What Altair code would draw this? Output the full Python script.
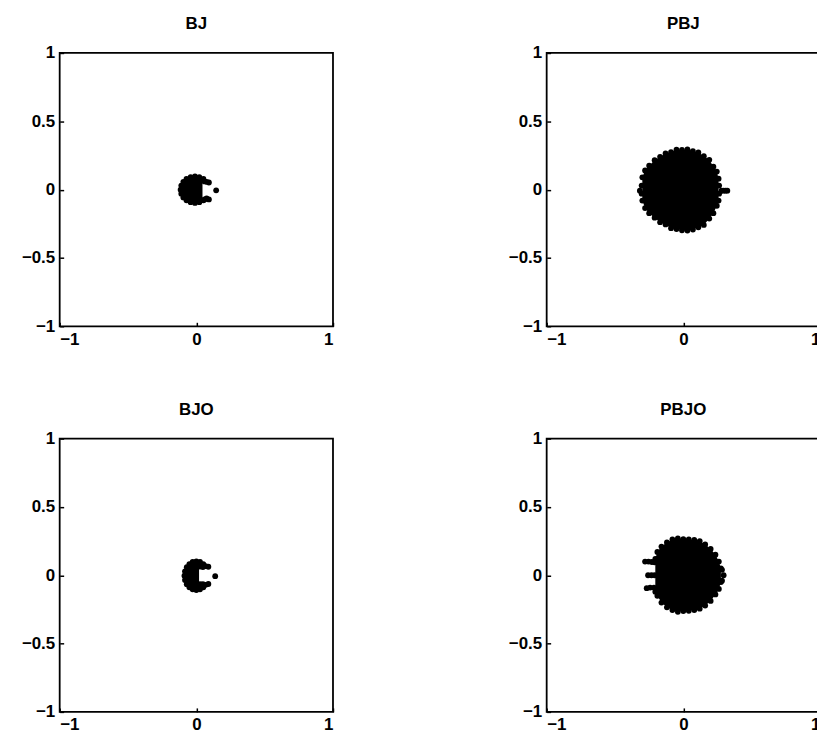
import altair as alt
import pandas as pd

titles = ["BJ", "PBJ", "BJO", "PBJO"]
x_ticks = [-1, 0, 1]
y_ticks = [-1, -0.5, 0, 0.5, 1]

# ---- BJ (top left): solid cluster with a small bite on the right + one outlier
bj_core_x = [-0.105, -0.090, -0.070, -0.050, -0.030, -0.010, 0.010, 0.030, 0.045]
bj_core_top = [0.041, 0.063, 0.080, 0.090, 0.095, 0.097, 0.095, 0.090, 0.084]
bj_core_bot = [-0.041, -0.063, -0.080, -0.090, -0.095, -0.097, -0.095, -0.090, -0.084]
bj_x = [0.092, 0.075, 0.052, 0.022, -0.010, -0.042, -0.072, -0.095, -0.110, -0.115,
        -0.110, -0.095, -0.072, -0.042, -0.010, 0.022, 0.052, 0.075, 0.092,
        0.060, 0.060,
        0.145]
bj_y = [0.052, 0.057, 0.078, 0.092, 0.097, 0.092, 0.078, 0.057, 0.030, 0.000,
        -0.030, -0.057, -0.078, -0.092, -0.097, -0.092, -0.078, -0.065, -0.072,
        0.060, -0.072,
        -0.005]

# ---- BJO (bottom left): "C" shaped cluster + one outlier
bjo_core_x = [-0.085, -0.070, -0.050, -0.030, -0.010, 0.000, 0.020]
bjo_core_top = [0.019, 0.059, 0.083, 0.096, 0.101, 0.102, 0.100]
bjo_core_bot = [-0.025, -0.065, -0.089, -0.102, -0.107, -0.108, -0.106]
bjo_x = [0.088, 0.068, 0.051, 0.027, 0.000, -0.027, -0.051, -0.070, -0.083, -0.087,
         -0.083, -0.070, -0.051, -0.027, 0.000, 0.027, 0.051, 0.068, 0.088,
         0.027, 0.027, 0.048, 0.048,
         0.138]
bjo_y = [0.062, 0.066, 0.082, 0.097, 0.102, 0.097, 0.082, 0.059, 0.029, -0.003,
         -0.035, -0.065, -0.088, -0.103, -0.108, -0.103, -0.088, -0.070, -0.064,
         0.064, -0.066, 0.060, -0.066,
         -0.007]

# ---- PBJ (top right): dense disc, outline read as upper / lower envelope
pbj_x = [-0.300, -0.280, -0.250, -0.210, -0.170, -0.130, -0.090, -0.050, -0.010,
         0.030, 0.070, 0.110, 0.150, 0.190, 0.220, 0.245, 0.258]
pbj_top = [0.090, 0.140, 0.175, 0.215, 0.240, 0.265, 0.275, 0.292, 0.290,
           0.295, 0.282, 0.272, 0.245, 0.218, 0.168, 0.132, 0.080]
pbj_bot = [-0.080, -0.135, -0.172, -0.205, -0.238, -0.255, -0.282, -0.288, -0.298,
           -0.300, -0.292, -0.276, -0.258, -0.212, -0.172, -0.118, -0.080]
pbj_extra_x = [-0.305, -0.305, -0.318, 0.262, 0.262, 0.280, 0.295, 0.310, 0.322]
pbj_extra_y = [0.030, -0.030, -0.008, 0.030, -0.030, -0.008, -0.008, -0.008, -0.008]

# ---- PBJO (bottom right)
pbjo_x = [-0.205, -0.190, -0.160, -0.120, -0.080, -0.040, 0.000, 0.040, 0.080,
          0.120, 0.160, 0.200, 0.235, 0.260, 0.275]
pbjo_top = [0.120, 0.170, 0.210, 0.240, 0.262, 0.270, 0.265, 0.262, 0.258,
            0.250, 0.225, 0.192, 0.150, 0.100, 0.050]
pbjo_bot = [-0.120, -0.150, -0.200, -0.235, -0.255, -0.268, -0.262, -0.260, -0.255,
            -0.245, -0.222, -0.188, -0.140, -0.100, -0.050]
pbjo_extra_x = [-0.280, -0.255, -0.230, -0.210, -0.258, -0.233, -0.210,
                -0.268, -0.243, -0.215,
                0.295, 0.283, 0.283]
pbjo_extra_y = [0.100, 0.100, 0.097, 0.095, 0.000, 0.000, 0.000,
                -0.095, -0.090, -0.090,
                0.000, 0.040, -0.040]

FONT = "Liberation Sans"
DOT = 34
SIZE = 275


def scale():
    return alt.Scale(domain=[-1, 1], nice=False, zero=False)


def xenc():
    return alt.X("x:Q", scale=scale(),
                 axis=alt.Axis(values=x_ticks, format="~g", title=None))


def yenc(field):
    return alt.Y(f"{field}:Q", scale=scale(),
                 axis=alt.Axis(values=y_ticks, format="~g", title=None))


def area(xs, tops, bots):
    adf = pd.DataFrame({"x": xs, "top": tops, "bot": bots})
    return alt.Chart(adf).mark_area(color="black", opacity=1, orient="vertical",
                                    interpolate="linear").encode(
        x=xenc(), y=yenc("top"), y2=alt.Y2("bot"))


def dots(xs, ys):
    df = pd.DataFrame({"x": xs, "y": ys})
    return alt.Chart(df).mark_circle(size=DOT, color="black", opacity=1).encode(
        x=xenc(), y=yenc("y"))


p1 = alt.layer(area(bj_core_x, bj_core_top, bj_core_bot),
               dots(bj_x, bj_y)).properties(width=SIZE, height=SIZE, title=titles[0])
p2 = alt.layer(area(pbj_x, pbj_top, pbj_bot),
               dots(pbj_x + pbj_x + pbj_extra_x, pbj_top + pbj_bot + pbj_extra_y)
               ).properties(width=SIZE, height=SIZE, title=titles[1])
p3 = alt.layer(area(bjo_core_x, bjo_core_top, bjo_core_bot),
               dots(bjo_x, bjo_y)).properties(width=SIZE, height=SIZE, title=titles[2])
p4 = alt.layer(area(pbjo_x, pbjo_top, pbjo_bot),
               dots(pbjo_x + pbjo_x + pbjo_extra_x, pbjo_top + pbjo_bot + pbjo_extra_y)
               ).properties(width=SIZE, height=SIZE, title=titles[3])

chart = alt.concat(
    p1, p2, p3, p4, columns=2,
    spacing={"row": 113, "column": 215},
    bounds="flush",
).properties(
    padding={"left": 10, "top": 4, "right": -5, "bottom": 0},
    background="white",
).configure_view(
    stroke="black", strokeWidth=1.8
).configure_axis(
    labelFont=FONT, labelFontSize=17, labelFontWeight="bold", labelColor="black",
    labelPadding=5, domain=False, grid=False,
    ticks=True, tickSize=4, tickWidth=1.5, tickColor="black", offset=-4,
).configure_axisY(
    minExtent=45, maxExtent=45
).configure_axisX(
    minExtent=24, maxExtent=24
).configure_title(
    font=FONT, fontSize=17, fontWeight="bold", color="black", offset=11, anchor="middle"
)

chart.save("out.html", embed_options={"renderer": "svg", "actions": False})
